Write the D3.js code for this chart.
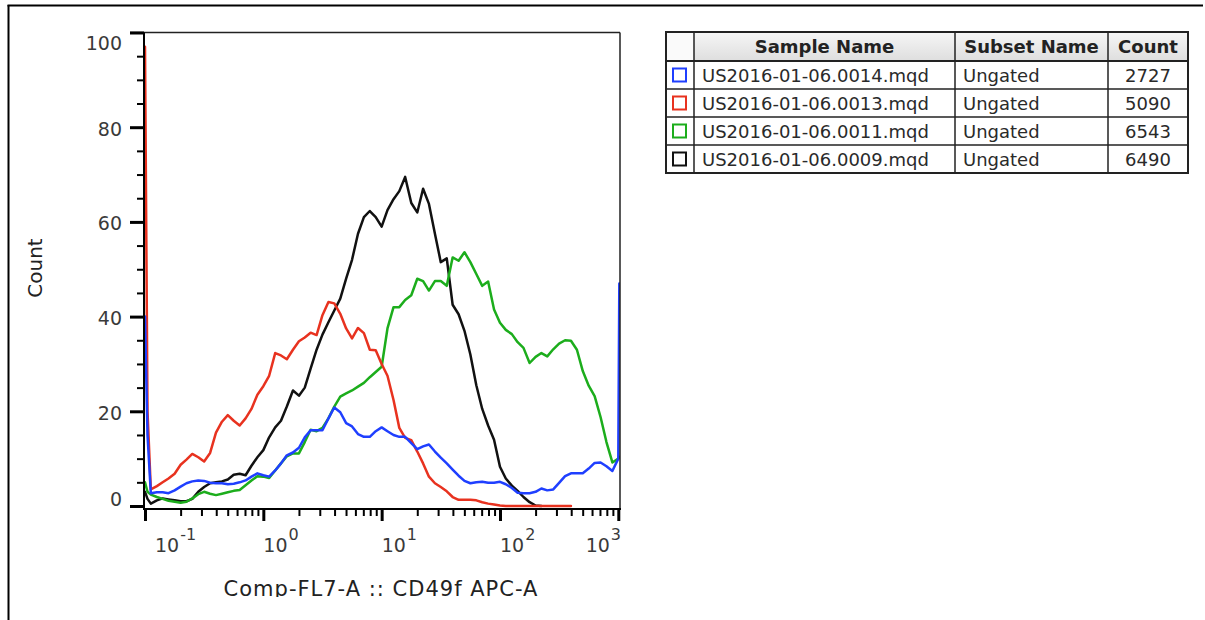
<!DOCTYPE html>
<html>
<head>
<meta charset="utf-8">
<script src="https://cdn.jsdelivr.net/npm/d3@7"></script>
<style>
  html, body { margin: 0; padding: 0; background: #fff; }
  svg { display: block; }
  text { font-family: "DejaVu Sans", "Noto Sans", sans-serif; }
</style>
</head>
<body>
<svg id="chart" width="1205" height="620"></svg>
<script>
// Histogram bin centres on the CD49f APC-A channel (log scale)
const binCenters = [0.1, 0.105, 0.112, 0.126, 0.141, 0.158, 0.178, 0.2, 0.224, 0.251, 0.282, 0.316, 0.355, 0.398, 0.447, 0.501, 0.562, 0.631, 0.708, 0.794, 0.891,
  1, 1.12, 1.26, 1.41, 1.58, 1.78, 2.0, 2.24, 2.51, 2.82, 3.16, 3.55, 3.98, 4.47, 5.01, 5.62, 6.31, 7.08, 7.94, 8.91,
  10, 11.2, 12.6, 14.1, 15.8, 17.8, 20.0, 22.4, 25.1, 28.2, 31.6, 35.5, 39.8, 44.7, 50.1, 56.2, 63.1, 70.8, 79.4, 89.1,
  100, 112, 126, 141, 158, 178, 200, 224, 251, 282, 316, 355, 398, 447, 501, 562, 631, 708, 794, 891, 1000, 1020];

// Counts per bin for each sample (null = no trace drawn)
const counts0014 = [40, 15, 2.7, 2.9, 2.9, 2.7, 3.3, 4.1, 4.8, 5.2, 5.4, 5.3, 4.9, 4.8, 4.8, 4.6, 4.7, 5.0, 5.4, 6.2, 6.9,
  6.5, 6.2, 7.5, 9.0, 10.7, 11.3, 12.3, 14.5, 16.0, 16.0, 16.0, 18.5, 20.8, 19.8, 17.5, 16.8, 15.2, 14.6, 14.6, 15.8,
  16.6, 15.8, 15.0, 14.6, 14.6, 13.3, 12.0, 12.6, 13.0, 11.5, 10.2, 9.0, 7.7, 6.4, 5.3, 4.8, 5.0, 5.1, 4.9, 4.9,
  5.1, 4.6, 3.8, 2.8, 2.7, 2.7, 3.0, 3.7, 3.3, 3.5, 4.9, 6.3, 6.9, 6.9, 6.9, 7.9, 9.1, 9.2, 8.4, 7.4, 10, 47];

const counts0013 = [97, 20, 3.5, 4.2, 5.0, 5.8, 6.8, 8.7, 9.8, 11.0, 10.3, 9.4, 11.2, 15.5, 17.8, 19.2, 18.0, 17.0, 18.5, 20.5, 23.5,
  25.3, 27.5, 32.3, 31.8, 31.0, 33.0, 34.8, 35.6, 36.6, 36.1, 40.3, 43.1, 42.8, 40.6, 37.5, 35.4, 37.6, 36.5, 33.0, 32.9,
  30.0, 27.5, 22.4, 16.5, 14.4, 13.9, 11.5, 9.0, 6.2, 4.8, 4.0, 3.1, 1.9, 1.3, 1.3, 1.3, 1.2, 0.8, 0.5, 0.3,
  0.1, 0, 0, 0, 0, 0, 0, 0, 0, 0, 0, 0, 0, null, null, null, null, null, null, null, null, null];

const counts0011 = [5, 3.0, 2.4, 1.9, 1.5, 1.1, 0.9, 0.7, 0.9, 1.6, 2.5, 3.0, 2.6, 2.3, 2.6, 2.9, 3.2, 3.4, 4.4, 5.4, 6.3,
  6.2, 5.9, 7.5, 9.0, 10.5, 11.1, 11.1, 13.5, 16.1, 15.8, 16.5, 18.5, 21.0, 23.1, 23.8, 24.4, 25.2, 26.0, 27.2, 28.3,
  29.4, 37.5, 42.0, 42.0, 43.5, 44.5, 48.0, 47.5, 45.5, 47.5, 47.5, 46.5, 52.5, 51.8, 53.6, 51.5, 49.0, 46.5, 47.4, 41.5,
  38.7, 37.2, 36.3, 34.6, 33.4, 30.2, 31.5, 32.3, 31.6, 33.1, 34.3, 35.0, 34.9, 33.0, 28.5, 25.4, 23.2, 18.8, 13.5, 9.2, 10.0, 10.4];

const counts0009 = [3, 1.5, 0.5, 1.2, 1.6, 1.4, 1.2, 1.0, 1.0, 1.5, 3.0, 4.0, 4.8, 5.0, 5.2, 5.6, 6.6, 6.8, 6.5, 8.5, 10.3,
  11.8, 14.5, 16.6, 18.0, 21.0, 24.4, 23.3, 25.0, 29.0, 33.0, 36.2, 38.8, 41.3, 43.8, 48.0, 52.0, 57.5, 61.0, 62.3, 61.0,
  59.0, 62.5, 64.8, 66.5, 69.5, 64.0, 62.0, 67.0, 63.8, 57.5, 51.5, 52.3, 42.5, 40.5, 37.0, 32.0, 25.5, 20.5, 17.0, 14.0,
  8.3, 5.8, 4.3, 3.2, 1.9, 0.8, 0.1, 0, null, null, null, null, null, null, null, null, null, null, null, null, null, null];

// Legend table contents
const sampleNames = ["US2016-01-06.0014.mqd", "US2016-01-06.0013.mqd", "US2016-01-06.0011.mqd", "US2016-01-06.0009.mqd"];
const subsetNames = ["Ungated", "Ungated", "Ungated", "Ungated"];
const eventCounts = [2727, 5090, 6543, 6490];
const seriesColors = ["#1f3fff", "#e8321f", "#1cad1c", "#111111"];
const seriesCounts = [counts0014, counts0013, counts0011, counts0009];
const tableHeaders = ["", "Sample Name", "Subset Name", "Count"];

// Axis ticks
const yMajorTicks = [0, 20, 40, 60, 80, 100];
const yMinorTicks = [5, 10, 15, 25, 30, 35, 45, 50, 55, 65, 70, 75, 85, 90, 95];
const xDecades = [0.1, 1, 10, 100, 1000];
const xExponents = ["-1", "0", "1", "2", "3"];
const xMinorTicks = [0.2, 0.3, 0.4, 0.5, 0.6, 0.7, 0.8, 0.9, 2, 3, 4, 5, 6, 7, 8, 9,
  20, 30, 40, 50, 60, 70, 80, 90, 200, 300, 400, 500, 600, 700, 800, 900];

const xTitle = "Comp-FL7-A :: CD49f APC-A";
const yTitle = "Count";

const tickFont = "Liberation Sans, Arial, sans-serif";

const svg = d3.select("#chart");

// outer frame
svg.append("line").attr("x1", 7.5).attr("x2", 1203).attr("y1", 5.5).attr("y2", 5.5)
  .attr("stroke", "#000").attr("stroke-width", 2);
svg.append("line").attr("x1", 8.5).attr("x2", 8.5).attr("y1", 5).attr("y2", 620)
  .attr("stroke", "#000").attr("stroke-width", 2);

// plot region (cut off along the bottom)
const defs = svg.append("defs");
defs.append("clipPath").attr("id", "chartClip")
  .append("rect").attr("x", 10).attr("y", 6).attr("width", 640).attr("height", 591);
defs.append("clipPath").attr("id", "plotClip")
  .append("rect").attr("x", 145).attr("y", 30).attr("width", 475).attr("height", 478);

const g = svg.append("g").attr("clip-path", "url(#chartClip)");

const plotLeft = 144, plotRight = 620, plotTop = 32.5, axisY = 509;
const x = d3.scaleLog().domain([0.1, 1000]).range([145, 618.3]);
const y = d3.scaleLinear().domain([0, 100]).range([506, 32.5]);

// traces
const line = d3.line()
  .defined(d => d[1] !== null)
  .x(d => x(d[0]))
  .y(d => y(d[1]));

const traces = g.append("g").attr("clip-path", "url(#plotClip)");
// draw the last listed sample first so the first one lies on top
[3, 2, 1, 0].forEach(i => {
  const pts = binCenters.map((c, k) => [c, seriesCounts[i][k]]);
  traces.append("path")
    .attr("d", line(pts))
    .attr("fill", "none")
    .attr("stroke", seriesColors[i])
    .attr("stroke-width", 2.5)
    .attr("stroke-linejoin", "round")
    .attr("stroke-linecap", "round");
});

// frame lines of the plot
g.append("line").attr("x1", 130).attr("x2", plotRight).attr("y1", plotTop).attr("y2", plotTop)
  .attr("stroke", "#222").attr("stroke-width", 1.5);
g.append("line").attr("x1", plotRight).attr("x2", plotRight).attr("y1", plotTop).attr("y2", axisY)
  .attr("stroke", "#222").attr("stroke-width", 1.5);
g.append("line").attr("x1", plotLeft).attr("x2", plotLeft).attr("y1", plotTop).attr("y2", axisY + 1)
  .attr("stroke", "#000").attr("stroke-width", 2);
g.append("line").attr("x1", plotLeft - 1).attr("x2", plotRight + 1).attr("y1", axisY).attr("y2", axisY)
  .attr("stroke", "#000").attr("stroke-width", 2);

// y axis (labels sit a little below their ticks and stay inside the plot height)
const yMajor = g.append("g").attr("transform", `translate(${plotLeft},0)`)
  .call(d3.axisLeft(y).tickValues(yMajorTicks).tickSize(14).tickPadding(8).tickFormat(d3.format("d")));
yMajor.select(".domain").remove();
yMajor.selectAll(".tick line").attr("stroke", "#000").attr("stroke-width", 3);
yMajor.selectAll(".tick text")
  .attr("font-size", 19).attr("fill", "#3a3a3a").attr("font-family", tickFont)
  .attr("y", d => Math.max(43, Math.min(499, y(d) + 2)) - y(d));

const yMinor = g.append("g").attr("transform", `translate(${plotLeft},0)`)
  .call(d3.axisLeft(y).tickValues(yMinorTicks).tickSize(7).tickFormat(""));
yMinor.select(".domain").remove();
yMinor.selectAll(".tick line").attr("stroke", "#000").attr("stroke-width", 2);

// x axis
const xMajor = g.append("g").attr("transform", `translate(0,${axisY})`)
  .call(d3.axisBottom(x).tickValues(xDecades).tickSize(12).tickFormat(""));
xMajor.select(".domain").remove();
xMajor.selectAll(".tick line").attr("stroke", "#000").attr("stroke-width", 3);

const xMinor = g.append("g").attr("transform", `translate(0,${axisY})`)
  .call(d3.axisBottom(x).tickValues(xMinorTicks).tickSize(7).tickFormat(""));
xMinor.select(".domain").remove();
xMinor.selectAll(".tick line").attr("stroke", "#000").attr("stroke-width", 2);

// decade labels written as powers of ten
xDecades.forEach((v, i) => {
  const t = g.append("text").attr("y", 552).attr("fill", "#3a3a3a")
    .attr("font-size", 19).attr("font-family", tickFont);
  t.append("tspan").text("10");
  t.append("tspan").attr("dy", -12.5).attr("dx", 1).attr("font-size", 16).text(xExponents[i]);
  const w = t.node().getComputedTextLength();
  const px = Math.max(155, Math.min(x(v), plotRight - w));
  t.attr("x", px);
});

// axis titles
g.append("text").attr("x", 381).attr("y", 596).attr("text-anchor", "middle")
  .attr("font-size", 21).attr("letter-spacing", 1).attr("fill", "#222").text(xTitle);
g.append("text").attr("transform", "translate(42,268) rotate(-90)").attr("text-anchor", "middle")
  .attr("font-size", 20).attr("fill", "#222").text(yTitle);

// legend table
const colX = [666, 694, 955, 1108, 1188];
const headTop = 32, headBottom = 61, rowH = 28;
const tbl = svg.append("g");

const grad = defs.append("linearGradient").attr("id", "headGrad").attr("x1", 0).attr("x2", 0).attr("y1", 0).attr("y2", 1);
grad.append("stop").attr("offset", "0%").attr("stop-color", "#f6f6f6");
grad.append("stop").attr("offset", "100%").attr("stop-color", "#dedede");

tableHeaders.forEach((h, c) => {
  tbl.append("rect").attr("x", colX[c]).attr("y", headTop)
    .attr("width", colX[c + 1] - colX[c]).attr("height", headBottom - headTop)
    .attr("fill", c === 0 ? "#fafafa" : "url(#headGrad)");
  if (h) {
    tbl.append("text").attr("x", (colX[c] + colX[c + 1]) / 2).attr("y", (headTop + headBottom) / 2)
      .attr("text-anchor", "middle").attr("dominant-baseline", "central")
      .attr("font-size", 18).attr("font-weight", "bold").attr("fill", "#222").text(h);
  }
});

const rowsBottom = headBottom + rowH * sampleNames.length;
sampleNames.forEach((name, r) => {
  const cy = headBottom + rowH * r + rowH / 2;
  tbl.append("rect").attr("x", 673).attr("y", cy - 6.5).attr("width", 13).attr("height", 13)
    .attr("fill", "#fff").attr("stroke", seriesColors[r]).attr("stroke-width", 2);
  tbl.append("text").attr("x", colX[1] + 8).attr("y", cy).attr("dominant-baseline", "central")
    .attr("font-size", 18).attr("fill", "#2a2a2a").text(name);
  tbl.append("text").attr("x", colX[2] + 8).attr("y", cy).attr("dominant-baseline", "central")
    .attr("font-size", 18).attr("fill", "#2a2a2a").text(subsetNames[r]);
  tbl.append("text").attr("x", (colX[3] + colX[4]) / 2).attr("y", cy).attr("dominant-baseline", "central")
    .attr("text-anchor", "middle").attr("font-size", 18).attr("fill", "#2a2a2a").text(eventCounts[r]);
});

// grid lines of the table
for (let r = 0; r <= sampleNames.length; r++) {
  const yy = headBottom + rowH * r;
  tbl.append("line").attr("x1", colX[0]).attr("x2", colX[4]).attr("y1", yy).attr("y2", yy)
    .attr("stroke", "#222").attr("stroke-width", r === 0 ? 2 : 1.5);
}
colX.slice(1, 4).forEach(cx => {
  tbl.append("line").attr("x1", cx).attr("x2", cx).attr("y1", headTop).attr("y2", rowsBottom)
    .attr("stroke", "#222").attr("stroke-width", 1.5);
});
tbl.append("rect").attr("x", colX[0]).attr("y", headTop).attr("width", colX[4] - colX[0])
  .attr("height", rowsBottom - headTop).attr("fill", "none").attr("stroke", "#222").attr("stroke-width", 2);
</script>
</body>
</html>
